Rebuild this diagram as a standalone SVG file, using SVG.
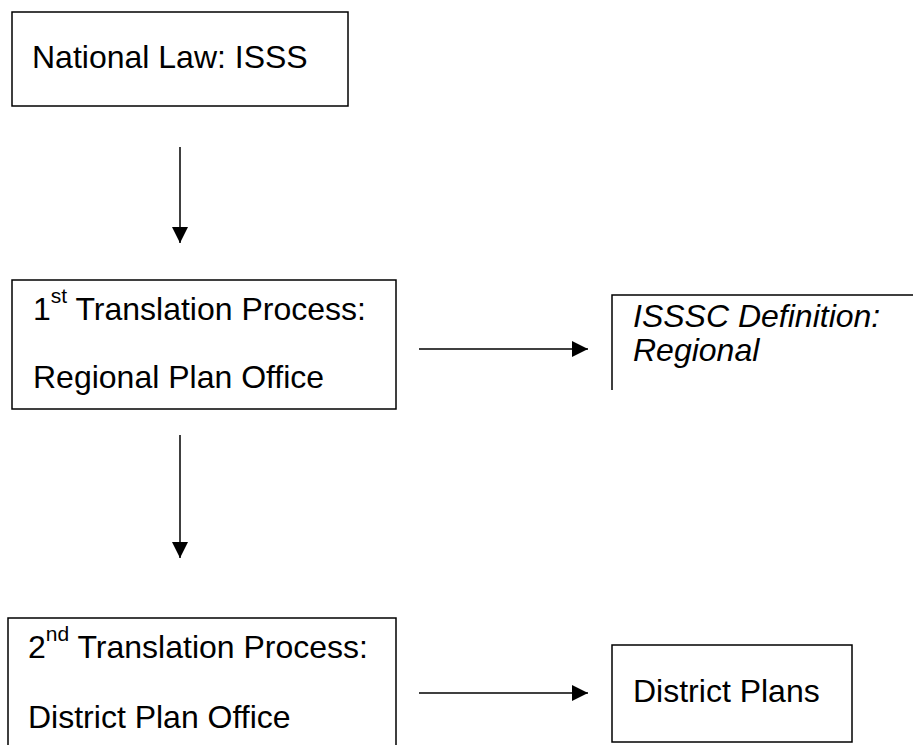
<svg xmlns="http://www.w3.org/2000/svg" width="913" height="745" viewBox="0 0 913 745">
  <style>
    .box { fill: none; stroke: #000; stroke-width: 1.5; }
    .lbl { font-family: "Liberation Sans", Arial, sans-serif; font-size: 32px; fill: #000; }
    .it { font-style: italic; }
    .sup { font-size: 21px; }
    .edge { stroke: #000; stroke-width: 1.5; fill: none; marker-end: url(#arrow); }
  </style>
  <defs>
    <marker id="arrow" markerUnits="userSpaceOnUse" markerWidth="16" markerHeight="16" refX="16" refY="8" orient="auto">
      <path d="M0,0 L16,8 L0,16 z" fill="#000"/>
    </marker>
  </defs>
  <rect width="913" height="745" fill="#fff"/>

  <g id="national-law">
    <rect class="box" x="12" y="12" width="336" height="94"/>
    <text class="lbl" x="32" y="68">National Law: ISSS</text>
  </g>

  <g id="first-translation">
    <rect class="box" x="12" y="280" width="384" height="129"/>
    <text class="lbl" x="33" y="320">1<tspan class="sup" dy="-17">st</tspan><tspan dy="17"> Translation Process:</tspan></text>
    <text class="lbl" x="33" y="388">Regional Plan Office</text>
  </g>

  <g id="isssc-definition">
    <path class="box" d="M914,295 H612 V390"/>
    <text class="lbl it" x="633" y="327">ISSSC Definition:</text>
    <text class="lbl it" x="633" y="361">Regional</text>
  </g>

  <g id="second-translation">
    <path class="box" d="M396,746 V618 H8 V746"/>
    <text class="lbl" x="28" y="658">2<tspan class="sup" dy="-17">nd</tspan><tspan dy="17"> Translation Process:</tspan></text>
    <text class="lbl" x="28" y="728">District Plan Office</text>
  </g>

  <g id="district-plans">
    <rect class="box" x="612" y="645" width="240" height="97"/>
    <text class="lbl" x="633" y="702">District Plans</text>
  </g>

  <g id="connectors">
    <line class="edge" x1="180" y1="147" x2="180" y2="243"/>
    <line class="edge" x1="180" y1="435" x2="180" y2="558"/>
    <line class="edge" x1="419" y1="349" x2="588" y2="349"/>
    <line class="edge" x1="419" y1="693" x2="588" y2="693"/>
  </g>
</svg>
